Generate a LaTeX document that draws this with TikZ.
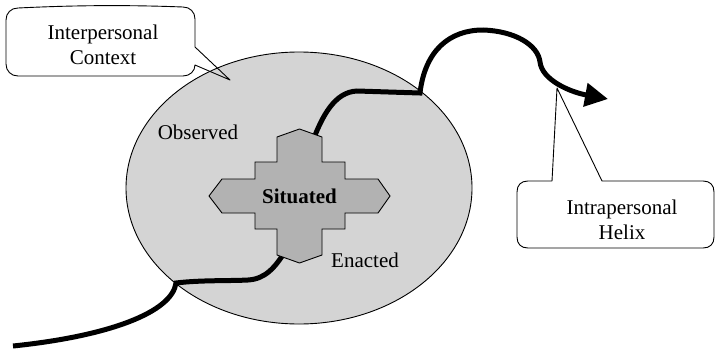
\documentclass[tikz,border=0pt]{standalone}
\usepackage{fontspec}
\setmainfont{Liberation Serif}
\usetikzlibrary{arrows.meta}
\definecolor{ringgray}{gray}{0.83}
\definecolor{crossgray}{gray}{0.70}
\begin{document}
\begin{tikzpicture}[x=1pt,y=-1pt,
  lbl/.style={font=\fontsize{21}{25}\selectfont, inner sep=0pt, align=center},
  helix/.style={line width=5pt, black, line join=miter},
  callout/.style={draw, line width=0.9pt, line join=round}]
\useasboundingbox (0,0) rectangle (719,348);

% interpersonal context: the large ellipse
\filldraw[fill=ringgray, draw=black, line width=0.9pt]
  (299,188) ellipse [x radius=173pt, y radius=136pt];

% named points where the helix crosses the ellipse
\coordinate (start) at (13,346);
\coordinate (lowcusp) at (176,283);
\coordinate (highcusp) at (420,93);
\coordinate (tip) at (608,99);

% helix, lower part (runs under the cross)
\draw[helix] (start) .. controls (110,336) and (172,312) .. (lowcusp)
  .. controls (200,280) and (230,281) .. (248,280)
  .. controls (265,279) and (275,268) .. (286,250);

% helix, upper part with the arrow
\draw[helix, -{Triangle[length=23pt, width=23pt]}]
  (311,146) .. controls (322,115) and (335,92) .. (357,91) -- (highcusp)
  .. controls (425,50) and (450,30) .. (483,30)
  .. controls (515,31) and (538,45) .. (540,62)
  .. controls (542,80) and (570,92) .. (tip);

% situated: the stepped cross
\filldraw[fill=crossgray, draw=black, line width=0.9pt]
  (209,196) -- (222,179) -- (255,179) -- (255,162) -- (277,162) -- (277,137)
  -- (299.5,129) -- (322,137) -- (322,162) -- (345,162) -- (345,179)
  -- (378,179) -- (390,196) -- (378,213) -- (345,213) -- (345,229)
  -- (322,229) -- (322,255) -- (299.5,263) -- (277,255) -- (277,229)
  -- (255,229) -- (255,213) -- (222,213) -- cycle;

\node[lbl, font=\fontsize{21}{25}\selectfont\bfseries] (situated) at (299.5,196.5) {Situated};
\node[lbl] (observed) at (198,132) {Observed};
\node[lbl] (enacted) at (365,260) {Enacted};

% callout: Interpersonal Context
\coordinate (ctip) at (230,80);
\draw[callout]
  (18,8) .. controls (80,5) and (130,5) .. (183,7)
  .. controls (190,7) and (195,12) .. (195,19) -- (195,47) -- (ctip) -- (195,65)
  .. controls (195,71) and (190,76) .. (183,76) -- (18,76)
  .. controls (11,76) and (6,71) .. (6,64) -- (6,20)
  .. controls (6,13) and (11,8) .. (18,8) -- cycle;
\node[lbl] (context) at (103,44.5) {Interpersonal\\Context};

% callout: Intrapersonal Helix
\coordinate (htip) at (557,88);
\draw[callout]
  (528,181) -- (552,181) -- (htip) -- (602,181) -- (703,181)
  .. controls (710,181) and (714,185) .. (714,192) -- (714,237)
  .. controls (714,244) and (710,248) .. (703,248) -- (528,248)
  .. controls (521,248) and (517,244) .. (517,237) -- (517,192)
  .. controls (517,185) and (521,181) .. (528,181) -- cycle;
\node[lbl] (helixlbl) at (622,219.5) {Intrapersonal\\Helix};
\end{tikzpicture}
\end{document}
